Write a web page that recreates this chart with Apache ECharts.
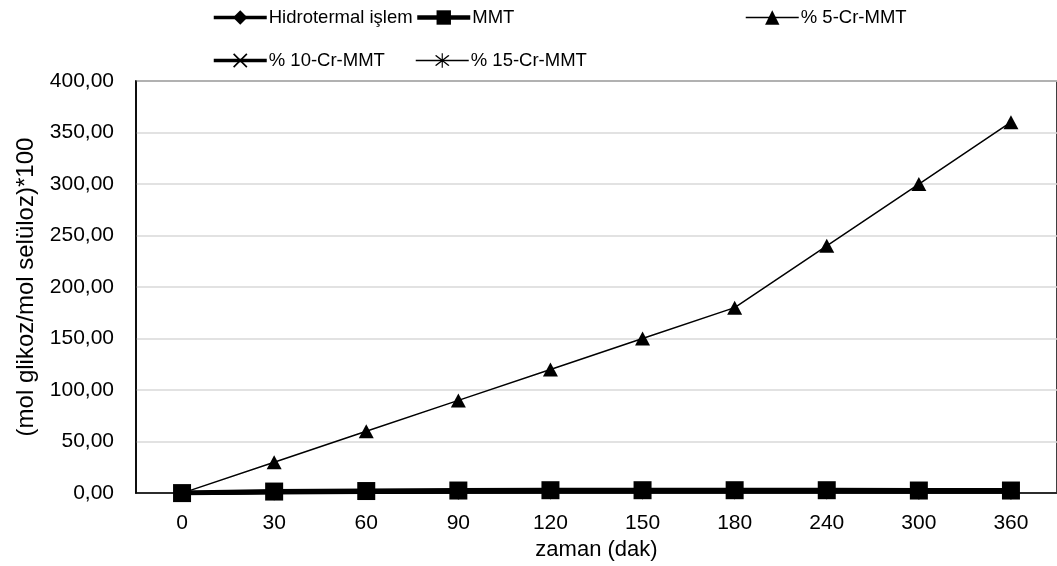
<!DOCTYPE html>
<html><head><meta charset="utf-8">
<script src="https://cdn.jsdelivr.net/npm/echarts@6/dist/echarts.min.js"></script>
<style>html,body{margin:0;padding:0;background:#fff}#c{width:1057px;height:566px}</style>
</head><body><div id="c"></div>
<script>
const categories = ['0','30','60','90','120','150','180','240','300','360'];
const hidrotermal = [0, 0.5, 1, 1.2, 1.5, 1.5, 1.5, 1.5, 1.2, 1.2];
const mmt = [0, 1.5, 2, 2.5, 2.8, 2.8, 2.8, 2.8, 2.5, 2.5];
const cr5 = [0, 30, 60, 90, 120, 150, 180, 240, 300, 360];
const cr10 = [0, 1, 1.5, 2, 2, 2, 2, 2, 2, 2];
const cr15 = [0, 1, 1.5, 2, 2.5, 2.5, 2.5, 2.5, 2, 3.5];
const yTicks = [0, 50, 100, 150, 200, 250, 300, 350, 400];
const names = ['Hidrotermal işlem','MMT','% 5-Cr-MMT','% 10-Cr-MMT','% 15-Cr-MMT'];

const FONT = 'Liberation Sans';
const xPath = 'path://M0,0.8 L0.8,0 L10,9.2 L9.2,10 Z M9.2,0 L10,0.8 L0.8,10 L0,9.2 Z';
const starPath = 'path://M0,0.8 L0.8,0 L10,9.2 L9.2,10 Z M9.2,0 L10,0.8 L0.8,10 L0,9.2 Z M4.6,-1.5 L5.4,-1.5 L5.4,11.5 L4.6,11.5 Z';

function legendAt(name, left, top, lw){
  return {data:[name], left:left, top:top, padding:0, itemWidth:53, itemHeight:18, itemGap:0,
    lineStyle:{width:lw, color:'#000'},
    textStyle:{fontFamily:FONT, fontSize:18.5, color:'#000', padding:[0,0,0,-3]}};
}
const chart = echarts.init(document.getElementById('c'), null, {renderer:'canvas'});
chart.setOption({
  animation:false,
  backgroundColor:'#fff',
  grid:{left:136, top:81, width:926, height:415, show:true, borderColor:'#000', borderWidth:1.5, containLabel:false},
  legend:[
    legendAt(names[0], 212, 8, 3.5),
    legendAt(names[1], 415, 8, 4.5),
    legendAt(names[2], 745, 8, 1.5),
    legendAt(names[3], 212, 51, 3.5),
    legendAt(names[4], 415, 51, 1.5)
  ],
  xAxis:{type:'category', data:categories, boundaryGap:true,
    axisLine:{show:true, lineStyle:{color:'#000', width:1.5}}, axisTick:{show:false},
    axisLabel:{fontFamily:FONT, fontSize:21, color:'#000', margin:20},
    name:'zaman (dak)', nameLocation:'middle', nameGap:34,
    nameTextStyle:{fontFamily:FONT, fontSize:22, color:'#000'}},
  yAxis:{type:'value', min:yTicks[0], max:yTicks[yTicks.length-1], interval:50,
    axisLine:{show:true, lineStyle:{color:'#000', width:1.5}}, axisTick:{show:false},
    axisLabel:{fontFamily:FONT, fontSize:21, color:'#000', margin:22,
      formatter:v=>v.toFixed(2).replace('.',',')},
    splitLine:{lineStyle:{color:'#d9d9d9', width:1.5}},
    name:'(mol glikoz/mol selüloz)*100', nameLocation:'middle', nameGap:98,
    nameTextStyle:{fontFamily:FONT, fontSize:24, color:'#000'}},
  series:[
    {name:names[0], type:'line', data:hidrotermal, symbol:'diamond', symbolSize:[16,16],
      lineStyle:{color:'#000', width:4}, itemStyle:{color:'#000'}},
    {name:names[1], type:'line', data:mmt, symbol:'rect', symbolSize:18,
      lineStyle:{color:'#000', width:5}, itemStyle:{color:'#000'}},
    {name:names[2], type:'line', data:cr5, symbol:'triangle', symbolSize:[15,14],
      lineStyle:{color:'#000', width:1.5}, itemStyle:{color:'#000'}},
    {name:names[3], type:'line', data:cr10, symbol:xPath, symbolSize:13,
      lineStyle:{color:'#000', width:4}, itemStyle:{color:'#000'}},
    {name:names[4], type:'line', data:cr15, symbol:starPath, symbolSize:13,
      lineStyle:{color:'#000', width:1.5}, itemStyle:{color:'#000'}}
  ]
});
</script></body></html>
